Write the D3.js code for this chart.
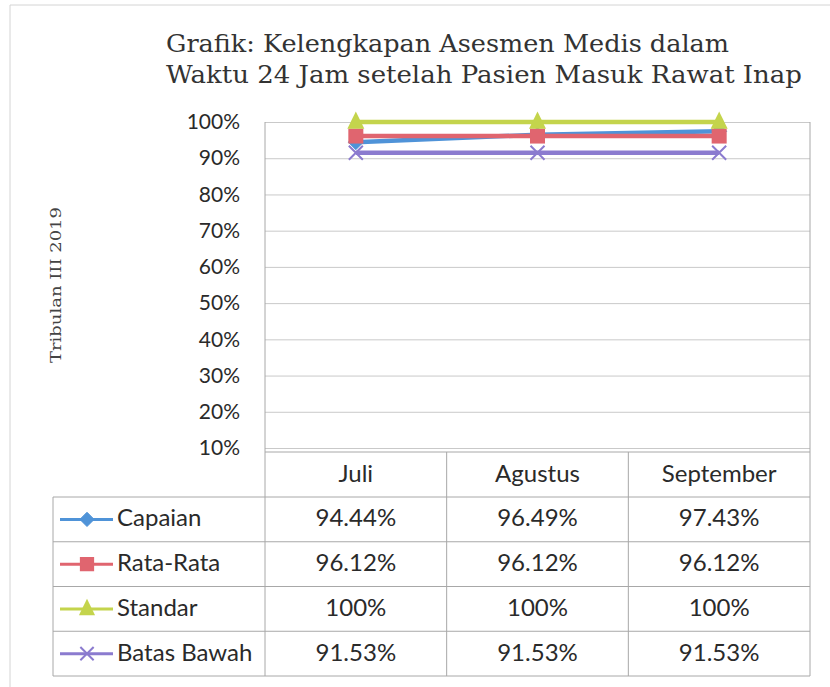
<!DOCTYPE html>
<html>
<head>
<meta charset="utf-8">
<script src="https://cdn.jsdelivr.net/npm/d3@7"></script>
<style>
  html, body { margin: 0; padding: 0; background: #fff; }
  svg { display: block; }
</style>
</head>
<body>
<svg id="chart" width="830" height="687"></svg>
<script>
// ---- data ----
const categories = ["Juli", "Agustus", "September"];
const capaian    = [94.44, 96.49, 97.43];
const rataRata   = [96.12, 96.12, 96.12];
const standar    = [100, 100, 100];
const batasBawah = [91.53, 91.53, 91.53];
const seriesNames = ["Capaian", "Rata-Rata", "Standar", "Batas Bawah"];
const yTicks = [10, 20, 30, 40, 50, 60, 70, 80, 90, 100];
const titleLines = ["Grafik: Kelengkapan Asesmen Medis dalam",
                    "Waktu 24 Jam setelah Pasien Masuk Rawat Inap"];
const axisTitle = "Tribulan III 2019";

// ---- styles ----
const colors = ["#4f93d8", "#e0656f", "#c4d44c", "#8b7bcf"];
const markers = ["diamond", "square", "triangle", "x"];
const sans = "Lato, 'Open Sans', sans-serif";
const serif = "'DejaVu Serif', 'Liberation Serif', serif";
const textColor = "#2a2a2a";

const series = [capaian, rataRata, standar, batasBawah].map((v, i) => ({
  name: seriesNames[i], values: v, color: colors[i], marker: markers[i]
}));

const svg = d3.select("#chart");

// page frame
svg.append("line").attr("x1", 10).attr("x2", 830).attr("y1", 5).attr("y2", 5)
  .attr("stroke", "#d4d4d4").attr("stroke-width", 1);
svg.append("line").attr("x1", 10).attr("x2", 10).attr("y1", 5).attr("y2", 687)
  .attr("stroke", "#d4d4d4").attr("stroke-width", 1);

// title
const title = svg.append("g");
const titleWidths = [563, 636];
titleLines.forEach((t, i) => {
  title.append("text")
    .attr("x", 166).attr("y", 52 + i * 31)
    .attr("font-family", serif).attr("font-size", 24)
    .attr("fill", "#333")
    .attr("textLength", titleWidths[i]).attr("lengthAdjust", "spacingAndGlyphs")
    .text(t);
});

// axis title
svg.append("text")
  .attr("transform", "translate(61,285) rotate(-90)")
  .attr("text-anchor", "middle")
  .attr("font-family", serif).attr("font-size", 15)
  .attr("fill", "#444")
  .attr("textLength", 156).attr("lengthAdjust", "spacingAndGlyphs")
  .text(axisTitle);

// scales
const plotL = 265, plotR = 810, plotT = 122, plotB = 452;
const x = d3.scaleBand().domain(categories).range([plotL, plotR]);
const y = d3.scaleLinear().domain([10, 100]).range([448, 122]);

// gridlines + y axis labels
const yAxis = d3.axisLeft(y).tickValues(yTicks).tickFormat(d => d + "%")
  .tickSize(-(plotR - plotL)).tickPadding(25);
const gy = svg.append("g").attr("transform", `translate(${plotL},0)`).call(yAxis);
gy.select(".domain").remove();
gy.selectAll(".tick line").attr("stroke", "#c9c9c9").attr("stroke-width", 1);
gy.selectAll(".tick text").attr("font-family", sans).attr("font-size", 21)
  .attr("fill", textColor);

// table geometry
const tableL = 53;
const headerT = 452, headerB = 497;
const rowH = (676 - 497) / 4;
const rowY = i => headerB + i * rowH;
const tableB = rowY(4);
const lineColor = "#a8a8a8";

const tbl = svg.append("g");
tbl.append("line").attr("x1", plotL).attr("x2", plotL).attr("y1", plotT).attr("y2", tableB)
  .attr("stroke", lineColor);
tbl.append("line").attr("x1", plotR).attr("x2", plotR).attr("y1", plotT).attr("y2", tableB)
  .attr("stroke", lineColor);
categories.slice(1).forEach(c => {
  tbl.append("line").attr("x1", x(c)).attr("x2", x(c)).attr("y1", headerT).attr("y2", tableB)
    .attr("stroke", lineColor);
});
tbl.append("line").attr("x1", tableL).attr("x2", tableL).attr("y1", headerB).attr("y2", tableB)
  .attr("stroke", lineColor);
tbl.append("line").attr("x1", plotL).attr("x2", plotR).attr("y1", headerT).attr("y2", headerT)
  .attr("stroke", lineColor);
for (let i = 0; i <= 4; i++) {
  tbl.append("line").attr("x1", tableL).attr("x2", plotR).attr("y1", rowY(i)).attr("y2", rowY(i))
    .attr("stroke", lineColor);
}
categories.forEach(c => {
  tbl.append("text")
    .attr("x", x(c) + x.bandwidth() / 2).attr("y", (headerT + headerB) / 2 + 1)
    .attr("text-anchor", "middle").attr("dominant-baseline", "middle")
    .attr("font-family", sans).attr("font-size", 24).attr("fill", textColor)
    .text(c);
});

// marker drawing
function drawMarker(g, type, cx, cy, color, scale) {
  const s = scale || 1;
  if (type === "diamond") {
    const r = 7.5 * s;
    g.append("path").attr("d", `M${cx},${cy - r}L${cx + r},${cy}L${cx},${cy + r}L${cx - r},${cy}Z`)
      .attr("fill", color).attr("stroke", color);
  } else if (type === "square") {
    const r = 7.5 * s;
    g.append("rect").attr("x", cx - r).attr("y", cy - r).attr("width", 2 * r).attr("height", 2 * r)
      .attr("fill", color);
  } else if (type === "triangle") {
    const r = 8.5 * s;
    g.append("path").attr("d", `M${cx},${cy - r * 1.25}L${cx + r},${cy + r * 0.8}L${cx - r},${cy + r * 0.8}Z`)
      .attr("fill", color);
  } else {
    const r = 7 * s;
    g.append("path").attr("d", `M${cx - r},${cy - r}L${cx + r},${cy + r}M${cx - r},${cy + r}L${cx + r},${cy - r}`)
      .attr("stroke", color).attr("stroke-width", 2).attr("fill", "none");
  }
}

// series lines
const line = d3.line().x((d, i) => x(categories[i]) + x.bandwidth() / 2).y(d => y(d));
series.forEach(s => {
  const g = svg.append("g");
  g.append("path").datum(s.values).attr("d", line)
    .attr("fill", "none").attr("stroke", s.color).attr("stroke-width", 4.5);
  s.values.forEach((v, i) => {
    drawMarker(g, s.marker, x(categories[i]) + x.bandwidth() / 2, y(v), s.color, 1);
  });
});

// table rows: legend + values
series.forEach((s, r) => {
  const cy = rowY(r) + rowH / 2;
  const g = svg.append("g");
  g.append("line").attr("x1", 60).attr("x2", 113).attr("y1", cy).attr("y2", cy)
    .attr("stroke", s.color).attr("stroke-width", 3);
  drawMarker(g, s.marker, 87, cy, s.color, 0.95);
  g.append("text").attr("x", 117).attr("y", cy + 1)
    .attr("dominant-baseline", "middle")
    .attr("font-family", sans).attr("font-size", 24).attr("fill", textColor)
    .text(s.name);
  s.values.forEach((v, i) => {
    g.append("text")
      .attr("x", x(categories[i]) + x.bandwidth() / 2).attr("y", cy + 1)
      .attr("text-anchor", "middle").attr("dominant-baseline", "middle")
      .attr("font-family", sans).attr("font-size", 24).attr("fill", textColor)
      .text(v + "%");
  });
});
</script>
</body>
</html>
